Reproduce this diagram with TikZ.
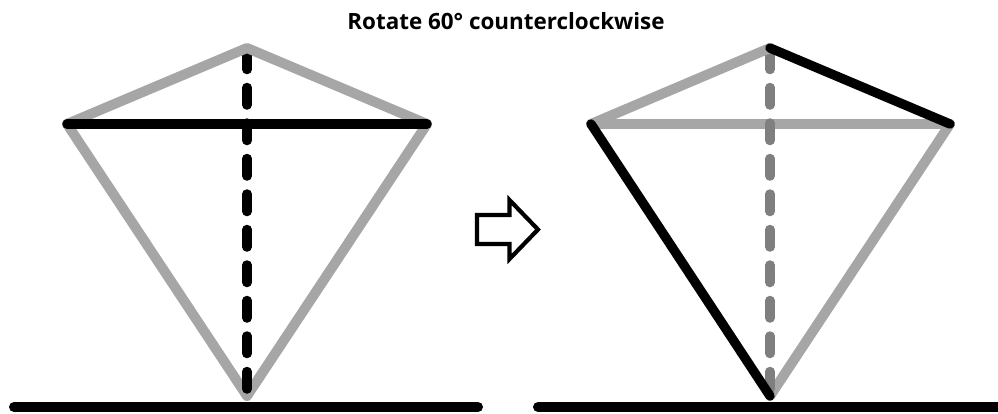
\documentclass[tikz,border=0pt]{standalone}
\usepackage{fontspec}
\setmainfont{Open Sans}
\definecolor{lg}{HTML}{A6A6A6}
\definecolor{dg}{HTML}{7F7F7F}
\tikzset{
 gray edge/.style={line width=10pt,line cap=round,line join=round,draw=lg},
 black edge/.style={line width=9.4pt,line cap=round,line join=round,draw=black},
 dash edge/.style={line width=9.5pt,line cap=round,dash pattern=on 17.5pt off 18pt},
 ground/.style={line width=10pt,line cap=round,draw=black},
 block arrow/.style={draw=black,line width=4.2pt,miter limit=10,fill=white},
 title text/.style={font=\bfseries\fontsize{22.4pt}{24pt}\selectfont,inner sep=0pt}
}
\begin{document}
\begin{tikzpicture}[x=1pt,y=-1pt]
\useasboundingbox (0,0) rectangle (998,413);
\node[title text] (title) at (506,21) {Rotate 60° counterclockwise};
% left kite
\coordinate (LT) at (247,48);
\coordinate (LL) at (67,124);
\coordinate (LR) at (427,124);
\coordinate (LB) at (247,396);
\coordinate (LDs) at (247,52);
\coordinate (G1a) at (14,407);
\coordinate (G1b) at (478,407);
\draw[gray edge] (LL) -- (LB) -- (LR);
\draw[dash edge,draw=black] (LDs) -- (LB);
\draw[gray edge] (LL) -- (LT) -- (LR);
\draw[black edge] (LL) -- (LR);
\draw[ground] (G1a) -- (G1b);
% right kite
\coordinate (RT) at (770,48);
\coordinate (RL) at (591,124);
\coordinate (RR) at (950,124);
\coordinate (RB) at (770,396);
\coordinate (RDs) at (770,52);
\coordinate (G2a) at (538,407);
\coordinate (G2b) at (1003,407);
\draw[gray edge] (RB) -- (RR);
\draw[gray edge] (RL) -- (RR);
\draw[dash edge,draw=dg] (RDs) -- (RB);
\draw[gray edge] (RL) -- (RT);
\draw[black edge] (RT) -- (RR);
\draw[black edge] (RL) -- (RB);
\draw[ground] (G2a) -- (G2b);
% block arrow
\draw[block arrow] (477,215) -- (509.5,215) -- (509.5,200) -- (538,229.5) -- (509.5,259) -- (509.5,244) -- (477,244) -- cycle;
\end{tikzpicture}
\end{document}
